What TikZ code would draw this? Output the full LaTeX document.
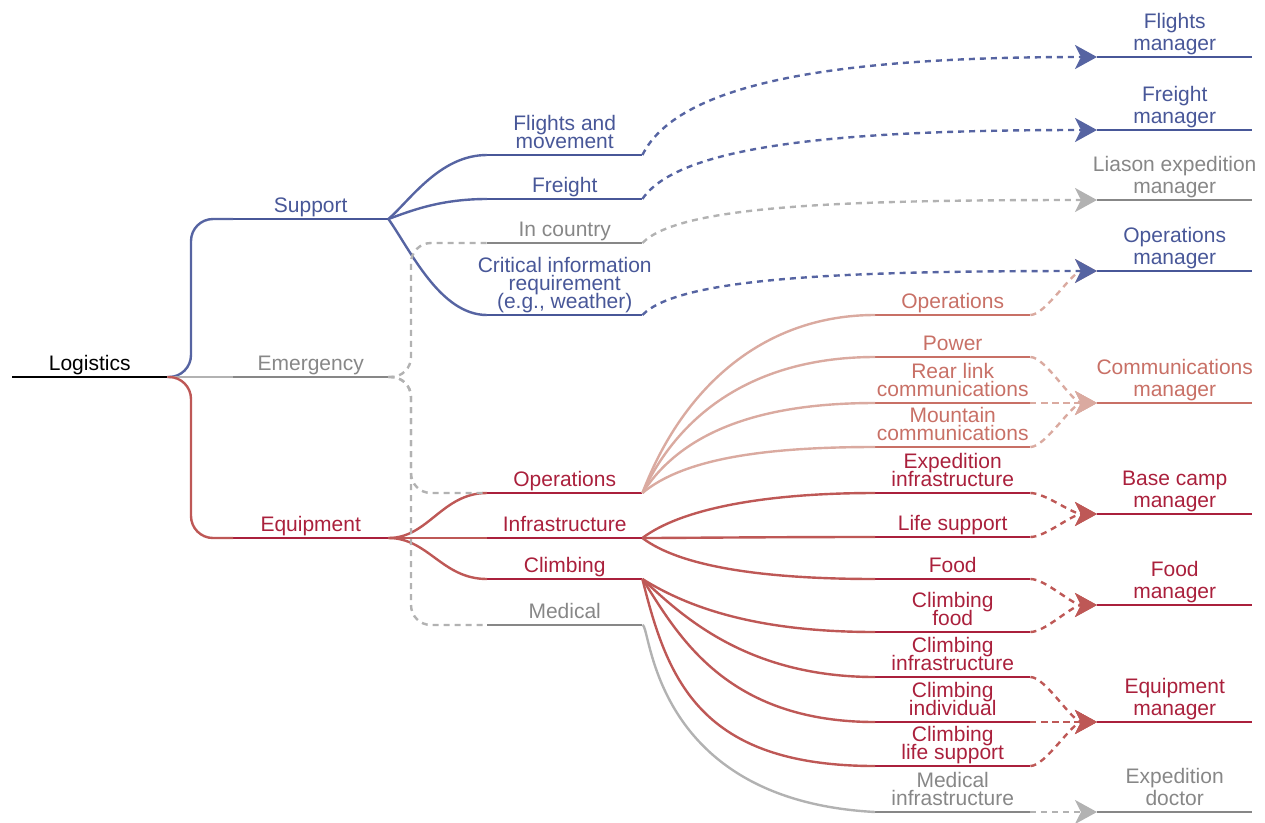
\documentclass[tikz,border=0pt]{standalone}
\usepackage{fontspec}
\setmainfont{Liberation Sans}
\usepackage{tikz}
\usetikzlibrary{arrows.meta}
\usepackage{xcolor}

\definecolor{supblue}{RGB}{72,87,152}
\definecolor{suplink}{RGB}{86,100,162}
\definecolor{emgray}{RGB}{135,135,135}
\definecolor{emlink}{RGB}{178,178,178}
\definecolor{eqred}{RGB}{170,32,60}
\definecolor{eqlink}{RGB}{190,88,86}
\definecolor{compink}{RGB}{200,112,102}
\definecolor{comlink}{RGB}{218,170,160}

\newcommand{\topicfont}{\fontsize{21}{18}\selectfont\lineskiplimit=-30pt\lineskip=0pt}
\newcommand{\mgrfont}{\fontsize{21}{22}\selectfont\lineskiplimit=-30pt\lineskip=0pt}

\begin{document}
\begin{tikzpicture}[x=1pt,y=-1pt,
    topic/.style={font=\topicfont, text=#1, align=center, anchor=south west,
        minimum width=155pt, inner xsep=0pt, inner ysep=2pt,
        execute at end node={\rule[-4.5pt]{0pt}{0pt}},
        append after command={(\tikzlastnode.south west) edge[draw=#1, line width=2.6pt] (\tikzlastnode.south east)}},
    mgr/.style={topic=#1, font=\mgrfont},
    link/.style={draw=#1, line width=2.4pt},
    dline/.style={draw=#1, line width=2.4pt, dash pattern=on 6pt off 5pt},
    dlink/.style={dline=#1, -{Stealth[length=22pt,width=24pt,inset=6pt,fill=#1]}}]
    \useasboundingbox (0,0) rectangle (1265,822);

    % Root and first level
    \node[topic=black] (log) at (12,377) {Logistics};
    \node[topic=supblue] (sup) at (233,219) {Support};
    \node[topic=emgray] (emer) at (233,377) {Emergency};
    \node[topic=eqred] (equip) at (233,538) {Equipment};

    % Second level
    \node[topic=supblue] (flights) at (487,155) {Flights and\\movement};
    \node[topic=supblue] (freight) at (487,199) {Freight};
    \node[topic=emgray] (incountry) at (487,243) {In country};
    \node[topic=supblue] (crit) at (487,315) {\makebox[150pt]{Critical information}\\requirement\\(e.g., weather)};
    \node[topic=eqred] (eqops) at (487,493) {Operations};
    \node[topic=eqred] (infra) at (487,538) {Infrastructure};
    \node[topic=eqred] (climb) at (487,579) {Climbing};
    \node[topic=emgray] (med) at (487,625) {Medical};

    % Third level
    \node[topic=compink] (ops) at (875,315) {Operations};
    \node[topic=compink] (power) at (875,357) {Power};
    \node[topic=compink] (rear) at (875,403) {Rear link\\communications};
    \node[topic=compink] (mount) at (875,447) {Mountain\\communications};
    \node[topic=eqred] (expinf) at (875,493) {Expedition\\infrastructure};
    \node[topic=eqred] (life) at (875,537) {Life support};
    \node[topic=eqred] (food) at (875,579) {Food};
    \node[topic=eqred] (cfood) at (875,632) {Climbing\\food};
    \node[topic=eqred] (cinf) at (875,677) {Climbing\\infrastructure};
    \node[topic=eqred] (cind) at (875,722) {Climbing\\individual};
    \node[topic=eqred] (clife) at (875,766) {Climbing\\life support};
    \node[topic=emgray] (medinf) at (875,812) {Medical\\infrastructure};

    % Managers
    \node[mgr=supblue] (flightsmgr) at (1097,57) {Flights\\manager};
    \node[mgr=supblue] (freightmgr) at (1097,130) {Freight\\manager};
    \node[mgr=emgray] (liasonmgr) at (1097,200) {\makebox[150pt]{Liason expedition}\\manager};
    \node[mgr=supblue] (opsmgr) at (1097,271) {Operations\\manager};
    \node[mgr=compink] (commmgr) at (1097,403) {\makebox[150pt]{Communications}\\manager};
    \node[mgr=eqred] (basemgr) at (1097,514) {Base camp\\manager};
    \node[mgr=eqred] (foodmgr) at (1097,605) {Food\\manager};
    \node[mgr=eqred] (equipmgr) at (1097,722) {Equipment\\manager};
    \node[mgr=emgray] (doctor) at (1097,812) {Expedition\\doctor};

    % Tree connections
    \draw[link=suplink, rounded corners=22pt] (log.south east) -| ([xshift=-42pt]sup.south west) -- (sup.south west);
    \draw[link=emlink] (log.south east) -- (emer.south west);
    \draw[link=eqlink, rounded corners=22pt] (log.south east) -| ([xshift=-42pt]equip.south west) -- (equip.south west);
    \foreach \n/\dy in {flights/-19, freight/-8, crit/31}
        \draw[link=suplink] (sup.south east) .. controls +(22,\dy) and +(-47,0) .. (\n.south west);
    \foreach \n in {eqops, infra, climb}
        \draw[link=eqlink] (equip.south east) .. controls +(40,0) and +(-45,0) .. (\n.south west);
    \foreach \n/\dy in {ops/-110, power/-90, rear/-65, mount/-35}
        \draw[link=comlink] (eqops.south east) .. controls +(42,\dy) and +(-108,0) .. (\n.south west);
    \foreach \n/\dy in {expinf/-28, life/0, food/28}
        \draw[link=eqlink] (infra.south east) .. controls +(37,\dy) and +(-115,0) .. (\n.south west);
    \foreach \n/\dx/\dy/\ex in {cfood/45/28/120, cinf/38/35/130, cind/35/55/150, clife/25/101/175}
        \draw[link=eqlink] (climb.south east) .. controls +(\dx,\dy) and +(-\ex,0) .. (\n.south west);
    \draw[link=emlink] (med.south east) .. controls +(9,0) and +(-225,-12) .. (medinf.south west);

    % Emergency branches
    \foreach \n in {incountry, eqops, med}
        \draw[dline=emlink, rounded corners=20pt] (emer.south east) -| ([xshift=-76pt]\n.south west)
            [rounded corners=36pt] -- (\n.south west);

    % Hand-over to managers
    \draw[dlink=comlink] (ops.south east) .. controls +(15,0) and +(-25,0) .. (opsmgr.south west);
    \foreach \a/\b/\dy in {flights/flightsmgr/-75, freight/freightmgr/-55, crit/opsmgr/-38}
        \draw[dlink=suplink] (\a.south east) .. controls +(37,\dy) and +(-250,0) .. (\b.south west);
    \draw[dlink=emlink] (incountry.south east) .. controls +(37,-38) and +(-250,0) .. (liasonmgr.south west);
    \foreach \a in {power, rear, mount}
        \draw[dlink=comlink] (\a.south east) .. controls +(15,0) and +(-25,0) .. (commmgr.south west);
    \foreach \a/\b in {expinf/basemgr, life/basemgr, food/foodmgr, cfood/foodmgr, cinf/equipmgr, cind/equipmgr, clife/equipmgr}
        \draw[dlink=eqlink] (\a.south east) .. controls +(15,0) and +(-25,0) .. (\b.south west);
    \draw[dlink=emlink] (medinf.south east) -- (doctor.south west);
\end{tikzpicture}
\end{document}
